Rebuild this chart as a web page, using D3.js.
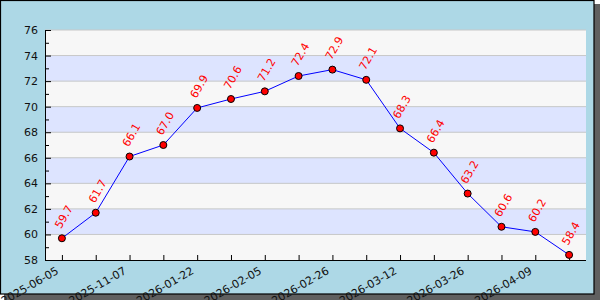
<!DOCTYPE html>
<html>
<head>
<meta charset="utf-8">
<script src="https://cdn.jsdelivr.net/npm/d3@7"></script>
<style>
  body { margin: 0; background: #fff; }
  svg { display: block; font-family: "DejaVu Sans", sans-serif; }
</style>
</head>
<body>
<div id="chart"></div>
<script>
// one value per point, 16 points; only every other tick carries a date label
const values = [59.7, 61.7, 66.1, 67.0, 69.9, 70.6, 71.2, 72.4, 72.9, 72.1, 68.3, 66.4, 63.2, 60.6, 60.2, 58.4];
const tickLabels = ["2025-06-05", "2025-11-07", "2026-01-22", "2026-02-05", "2026-02-26", "2026-03-12", "2026-03-26", "2026-04-09"];
const yDomain = [58, 76];

const width = 600;
const height = 300;
const margin = { top: 30, right: 14, bottom: 40, left: 45 };

const svg = d3
  .select("#chart")
  .append("svg")
  .attr("width", width)
  .attr("height", height);

// frame with drop shadow
svg.append("rect")
  .attr("x", 4).attr("y", 4)
  .attr("width", width - 4).attr("height", height - 4)
  .attr("fill", "#606060");
svg.append("rect")
  .attr("x", 0.5).attr("y", 0.5)
  .attr("width", 593.5).attr("height", 293.5)
  .attr("fill", "#add8e6")
  .attr("stroke", "#000")
  .attr("stroke-width", 1.2);

const idx = d3.range(values.length);

const x = d3.scalePoint()
  .domain(idx)
  .range([margin.left, width - margin.right])
  .padding(0.5);

const y = d3.scaleLinear()
  .domain(yDomain)
  .range([height - margin.bottom, margin.top]);

// alternating bands
const bandStarts = d3.range(yDomain[0], yDomain[1], 2);
svg.append("g")
  .selectAll("rect")
  .data(bandStarts)
  .join("rect")
  .attr("x", margin.left)
  .attr("width", width - margin.right - margin.left)
  .attr("y", (d) => y(d + 2))
  .attr("height", (d) => y(d) - y(d + 2))
  .attr("fill", (d, i) => (i % 2 === 0 ? "#f7f7f7" : "#dde4ff"));

// grid lines
svg.append("g")
  .selectAll("line")
  .data(d3.range(yDomain[0] + 2, yDomain[1] + 1, 2))
  .join("line")
  .attr("x1", margin.left)
  .attr("x2", width - margin.right)
  .attr("y1", (d) => y(d))
  .attr("y2", (d) => y(d))
  .attr("stroke", "#c8c8c8")
  .attr("stroke-width", 1);

// y axis: major ticks every 2, minor in between, both pointing inward
const yAxisG = svg.append("g")
  .attr("transform", `translate(${margin.left},0)`)
  .call(d3.axisRight(y).tickValues(d3.range(58, 77, 2)).tickSize(6).tickSizeOuter(0).tickFormat(d3.format("d")))
  .attr("font-family", "DejaVu Sans, sans-serif")
  .attr("font-size", 11);
yAxisG.selectAll(".tick text")
  .attr("x", -7)
  .attr("text-anchor", "end")
  .attr("fill", "#111");
yAxisG.select(".domain").attr("stroke", "#000");

svg.append("g")
  .selectAll("line")
  .data(d3.range(59, 76, 2))
  .join("line")
  .attr("x1", margin.left)
  .attr("x2", margin.left + 4)
  .attr("y1", (d) => y(d) + 0.5)
  .attr("y2", (d) => y(d) + 0.5)
  .attr("stroke", "#000");

// x axis with inward ticks and rotated labels on every other tick
const xAxisG = svg.append("g")
  .attr("transform", `translate(0,${height - margin.bottom})`)
  .call(
    d3.axisTop(x)
      .tickSize(5)
      .tickSizeOuter(0)
      .tickFormat((i) => (i % 2 === 0 ? tickLabels[i / 2] : ""))
  )
  .attr("font-family", "DejaVu Sans, sans-serif")
  .attr("font-size", 11);
xAxisG.select(".domain").attr("d", `M${margin.left},0.5H${width - margin.right}`).attr("stroke", "#000");
xAxisG.selectAll(".tick text")
  .attr("y", 0)
  .attr("dy", 0)
  .attr("text-anchor", "end")
  .attr("transform", "translate(-3,13) rotate(-30)")
  .attr("fill", "#111");

// line
svg.append("path")
  .datum(values)
  .attr("fill", "none")
  .attr("stroke", "#0000ff")
  .attr("stroke-width", 1)
  .attr("d", d3.line().x((d, i) => x(i)).y((d) => y(d)));

// points
svg.append("g")
  .selectAll("circle")
  .data(values)
  .join("circle")
  .attr("cx", (d, i) => x(i))
  .attr("cy", (d) => y(d))
  .attr("r", 3.5)
  .attr("fill", "#ff0000")
  .attr("stroke", "#000")
  .attr("stroke-width", 1);

// value labels
svg.append("g")
  .selectAll("text")
  .data(values)
  .join("text")
  .attr("transform", (d, i) => `translate(${x(i) - 1},${y(d) - 9}) rotate(-60)`)
  .attr("fill", "#ff0000")
  .attr("font-size", 11)
  .text((d) => d.toFixed(1));
</script>
</body>
</html>
